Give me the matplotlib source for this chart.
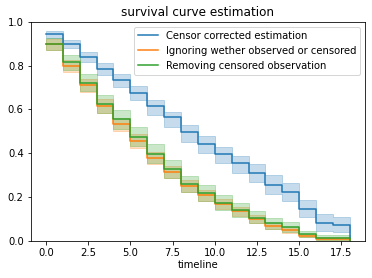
import numpy as np
import matplotlib
matplotlib.use("Agg")
import matplotlib.pyplot as plt

# timeline (event times)
timeline = np.arange(0, 19)

labels = [
    "Censor corrected estimation",
    "Ignoring wether observed or censored",
    "Removing censored observation",
]

# censor corrected (Kaplan-Meier) estimate + confidence band
km = [0.945, 0.899, 0.841, 0.786, 0.735, 0.677, 0.616, 0.564, 0.496, 0.443,
      0.397, 0.354, 0.311, 0.257, 0.224, 0.146, 0.081, 0.073, 0.0]
km_lo = [0.927, 0.88, 0.816, 0.756, 0.703, 0.643, 0.575, 0.519, 0.45, 0.40,
         0.354, 0.308, 0.27, 0.214, 0.183, 0.107, 0.046, 0.038, 0.0]
km_hi = [0.958, 0.916, 0.861, 0.811, 0.761, 0.707, 0.643, 0.587, 0.528, 0.478,
         0.43, 0.387, 0.349, 0.30, 0.265, 0.186, 0.121, 0.11, 0.0]

# ignoring censoring
ign = [0.898, 0.80, 0.71, 0.617, 0.532, 0.457, 0.378, 0.313, 0.25, 0.207,
       0.168, 0.134, 0.099, 0.067, 0.049, 0.023, 0.009, 0.008, 0.0]
ign_lo = [0.872, 0.773, 0.68, 0.585, 0.50, 0.425, 0.35, 0.285, 0.225, 0.183,
          0.146, 0.114, 0.082, 0.053, 0.037, 0.015, 0.004, 0.003, 0.0]
ign_hi = [0.92, 0.825, 0.738, 0.647, 0.563, 0.488, 0.407, 0.34, 0.277, 0.232,
          0.191, 0.155, 0.118, 0.083, 0.063, 0.033, 0.016, 0.015, 0.0]

# removing censored observations
rem = [0.90, 0.816, 0.723, 0.625, 0.555, 0.475, 0.396, 0.326, 0.258, 0.216,
       0.173, 0.14, 0.106, 0.079, 0.061, 0.029, 0.014, 0.012, 0.0]
rem_lo = [0.87, 0.78, 0.683, 0.585, 0.512, 0.432, 0.354, 0.286, 0.222, 0.18,
          0.14, 0.11, 0.08, 0.055, 0.04, 0.015, 0.004, 0.003, 0.0]
rem_hi = [0.925, 0.85, 0.763, 0.665, 0.598, 0.52, 0.44, 0.368, 0.296, 0.253,
          0.208, 0.172, 0.134, 0.105, 0.085, 0.046, 0.027, 0.025, 0.0]

series = [(km, km_lo, km_hi), (ign, ign_lo, ign_hi), (rem, rem_lo, rem_hi)]
colors = ["#1f77b4", "#ff7f0e", "#2ca02c"]

fig = plt.figure(figsize=(372 / 72, 278 / 72), dpi=72)
ax = fig.add_axes([0.0825, 0.134, 0.899, 0.787])

for (est, lo, hi), label, c in zip(series, labels, colors):
    ax.plot(timeline, est, drawstyle="steps-post", color=c, label=label, lw=1.5)
    ax.fill_between(timeline, lo, hi, step="post", color=c, alpha=0.25, linewidth=1.0)

ax.set_ylim(0, 1)
ax.set_yticks(np.arange(0, 1.01, 0.2))
ax.set_xlabel("timeline", labelpad=2)
ax.set_title("survival curve estimation")
ax.legend(loc="upper right")

fig.savefig("out.png", dpi=72)
